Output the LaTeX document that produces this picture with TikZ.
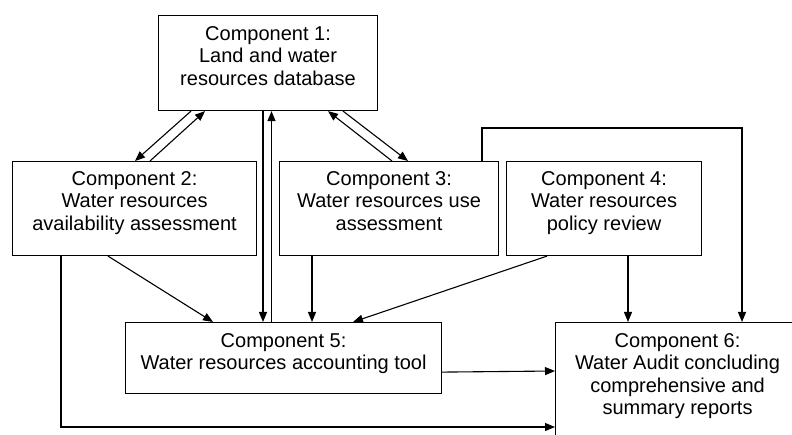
\documentclass[tikz,border=0pt]{standalone}
\usepackage{fontspec}
\setmainfont{Liberation Sans}
\usetikzlibrary{arrows.meta,calc}

\tikzset{
	box/.style={draw=black, line width=1.1pt, inner sep=0pt, anchor=north west},
	lbl/.style={inner sep=0pt, anchor=north, align=center, font=\fontsize{20}{22.5}\selectfont},
	arr/.style={line width=1.1pt, -{Triangle[length=10pt,width=8pt]}}
}

\begin{document}
\begin{tikzpicture}[x=1pt,y=1pt,yscale=-1,xscale=1]
		\clip (0,0) rectangle (792,435); % picture is 792 wide and 435 high

		% The six component boxes
		\node[box, minimum width=219pt, minimum height=95pt] (comp1) at (158,15) {};
		\node[box, minimum width=244pt, minimum height=94pt] (comp2) at (12,161) {};
		\node[box, minimum width=219pt, minimum height=94pt] (comp3) at (279,161) {};
		\node[box, minimum width=195pt, minimum height=94pt] (comp4) at (506,161) {};
		\node[box, minimum width=316pt, minimum height=71pt] (comp5) at (125,322) {};
		\node[box, minimum width=244pt, minimum height=122pt] (comp6) at (555,322) {};

		% Texts, set near the top of each box
		\node[lbl] (comp1txt) at ($(comp1.north)+(0,11)$) {Component 1:\\Land and water\\resources database};
		\node[lbl] (comp2txt) at ($(comp2.north)+(0,10)$) {Component 2:\\Water resources\\availability assessment};
		\node[lbl] (comp3txt) at ($(comp3.north)+(0,10)$) {Component 3:\\Water resources use\\assessment};
		\node[lbl] (comp4txt) at ($(comp4.north)+(0,10)$) {Component 4:\\Water resources\\policy review};
		\node[lbl] (comp5txt) at ($(comp5.north)+(0,11)$) {Component 5:\\Water resources accounting tool};
		\node[lbl] (comp6txt) at ($(comp6.north)+(0,11)$) {Component 6:\\Water Audit concluding\\comprehensive and\\summary reports};

		% Two way links between component 1 and components 2 and 3
		\draw[arr] ($(comp1.south west)+(33,0)$) -- ($(comp2.north west)+(123,0)$);
		\draw[arr] ($(comp2.north west)+(138,0)$) -- ($(comp1.south west)+(47,0)$);
		\draw[arr] ($(comp1.south west)+(185,0)$) -- ($(comp3.north west)+(129,0)$);
		\draw[arr] ($(comp3.north west)+(113,0)$) -- ($(comp1.south west)+(170,0)$);

		% Two way link between component 1 and component 5
		\draw[arr] ($(comp1.south west)+(105,0)$) -- ($(comp5.north west)+(138,0)$);
		\draw[arr] ($(comp5.north west)+(146.5,0)$) -- ($(comp1.south west)+(113.5,0)$);

		% Components 2, 3 and 4 feed component 5
		\draw[arr] ($(comp2.south west)+(96,0)$) -- ($(comp5.north west)+(88,0)$);
		\draw[arr] ($(comp3.south west)+(33,0)$) -- ($(comp5.north west)+(187,0)$);
		\draw[arr] ($(comp4.south west)+(41,0)$) -- ($(comp5.north west)+(228,0)$);

		% Links into component 6
		\draw[arr] ($(comp4.south west)+(122,0)$) -- ($(comp6.north west)+(73,0)$);
		\draw[arr] ($(comp3.north west)+(203,0)$) -- ++(0,-33) -| ($(comp6.north west)+(187,0)$);
		\draw[arr] ($(comp5.south east)+(0,-22)$) -- ($(comp6.north west)+(0,49)$);
		\draw[arr] ($(comp2.south west)+(49,0)$) |- ($(comp6.north west)+(0,105)$);
	\end{tikzpicture}
\end{document}
